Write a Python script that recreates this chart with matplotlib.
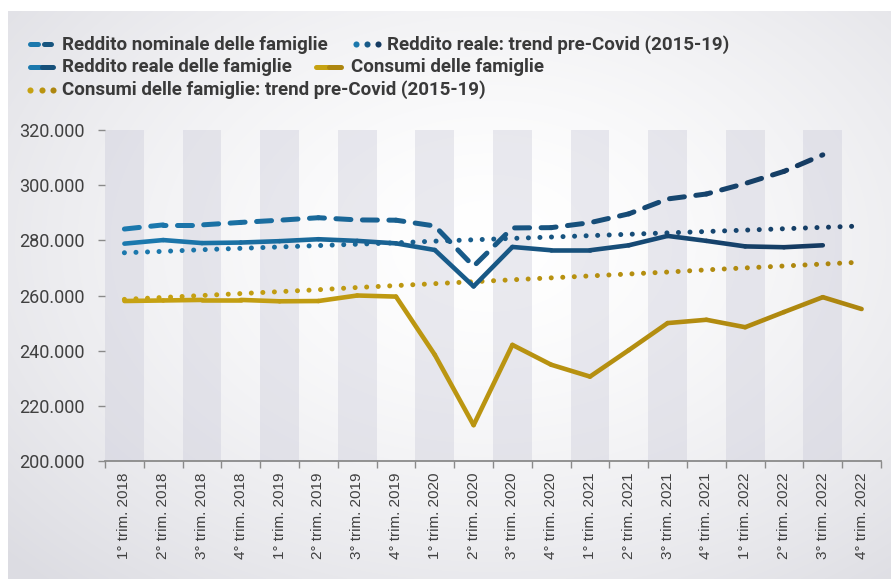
"""Reddito e consumi delle famiglie, 2018-2022, con trend pre-Covid"""

import numpy as np
import matplotlib
matplotlib.use("Agg")
import matplotlib.pyplot as plt

# dati (migliaia di euro)
trimestri = ["1° trim. 2018", "2° trim. 2018", "3° trim. 2018", "4° trim. 2018",
             "1° trim. 2019", "2° trim. 2019", "3° trim. 2019", "4° trim. 2019",
             "1° trim. 2020", "2° trim. 2020", "3° trim. 2020", "4° trim. 2020",
             "1° trim. 2021", "2° trim. 2021", "3° trim. 2021", "4° trim. 2021",
             "1° trim. 2022", "2° trim. 2022", "3° trim. 2022", "4° trim. 2022"]

reddito_nominale = [284.1, 285.6, 285.6, 286.5, 287.3, 288.2, 287.4, 287.3,
                    285.2, 270.6, 284.5, 284.6, 286.4, 289.6, 295.0, 296.8,
                    300.6, 305.0, 311.0, np.nan]
reddito_reale = [278.8, 280.1, 279.0, 279.2, 279.7, 280.4, 279.8, 278.9,
                 276.5, 263.3, 277.6, 276.4, 276.4, 278.2, 281.6, 279.8,
                 277.8, 277.5, 278.2, np.nan]
reddito_trend = [275.5, 276.0, 276.6, 277.1, 277.6, 278.1, 278.6, 279.1,
                 279.7, 280.2, 280.7, 281.2, 281.7, 282.2, 282.7, 283.2,
                 283.7, 284.2, 284.7, 285.2]
consumi = [258.0, 258.2, 258.4, 258.4, 257.9, 258.0, 260.0, 259.6,
           238.5, 213.0, 242.1, 234.9, 230.6, 240.2, 250.0, 251.2,
           248.5, 254.0, 259.4, 255.1]
consumi_trend = [258.6, 259.3, 260.0, 260.7, 261.4, 262.1, 262.9, 263.6,
                 264.3, 265.0, 265.7, 266.4, 267.1, 267.8, 268.5, 269.3,
                 270.0, 270.7, 271.4, 272.1]
yticks = [200, 220, 240, 260, 280, 300, 320]

BLU_CHIARO = "#1b78ad"
BLU_SCURO = "#153b62"
ORO_CHIARO = "#c6a212"
ORO_SCURO = "#ad860f"

FONT_NARROW = ["Liberation Sans Narrow", "Roboto", "DejaVu Sans"]
FONT_LABEL = ["Liberation Sans", "DejaVu Sans"]

DPI = 100
fig = plt.figure(figsize=(8.91, 5.79), dpi=DPI)

# sfondo sfumato su tutta la figura
bg = fig.add_axes([0, 0, 1, 1], zorder=-10)
W, H = 891, 579
xx, yy = np.meshgrid(np.linspace(0, 1, W), np.linspace(0, 1, H))
r = np.sqrt(((xx - 0.55) / 0.75) ** 2 + ((yy - 0.42) / 0.8) ** 2)
g = np.clip(r, 0, 1) ** 1.5
img = np.zeros((H, W, 3))
for k, (c0, c1) in enumerate(zip((255, 255, 255), (220, 220, 226))):
    img[..., k] = (c0 + (c1 - c0) * g) / 255.0
img[:11, :, :] = 1.0
img[:, :8, :] = 1.0
bg.imshow(img, extent=[0, W, H, 0], aspect="auto", interpolation="bilinear")
bg.set_xlim(0, W)
bg.set_ylim(H, 0)
bg.axis("off")

ax = fig.add_axes([105 / W, (H - 461) / H, (881 - 105) / W, (461 - 130) / H])
ax.patch.set_alpha(0)
x = np.arange(len(trimestri))
ax.set_xlim(-0.5, len(trimestri) - 0.5)
ax.set_ylim(200, 320)

# bande verticali alternate
for i in range(0, len(trimestri), 2):
    ax.axvspan(i - 0.5, i + 0.5, color="#c9c9d8", alpha=0.38, lw=0, zorder=0)


def mix(c0, c1, t):
    a = np.array(matplotlib.colors.to_rgb(c0))
    b = np.array(matplotlib.colors.to_rgb(c1))
    return tuple(a + (b - a) * t)


def grad_plot(ax, yvals, c0, c1, lw, dash=None, zorder=3):
    y = np.array(yvals, dtype=float)
    ok = ~np.isnan(y)
    xs, ys = x[ok], y[ok]
    pts = ax.transData.transform(np.column_stack([xs, ys]))
    seg = np.hypot(*np.diff(pts, axis=0).T) * 72.0 / DPI
    cum = 0.0
    n = len(xs)
    for i in range(n - 1):
        col = mix(c0, c1, i / (n - 2))
        if dash is None:
            ls = "-"
        else:
            ls = (cum / lw, dash)
        ax.plot(xs[i:i + 2], ys[i:i + 2], color=col, lw=lw, ls=ls,
                solid_capstyle="round", dash_capstyle="round",
                solid_joinstyle="round", zorder=zorder)
        cum += seg[i]


grad_plot(ax, consumi_trend, ORO_CHIARO, ORO_SCURO, 3.6, dash=(0.01, 2.3), zorder=2)
grad_plot(ax, reddito_trend, BLU_CHIARO, BLU_SCURO, 3.6, dash=(0.01, 2.3), zorder=2)
grad_plot(ax, consumi, ORO_CHIARO, ORO_SCURO, 3.3, zorder=3)
grad_plot(ax, reddito_reale, BLU_CHIARO, BLU_SCURO, 3.3, zorder=3)
grad_plot(ax, reddito_nominale, BLU_CHIARO, BLU_SCURO, 3.6, dash=(3.0, 2.3), zorder=4)

# assi
for s in ["top", "right", "left"]:
    ax.spines[s].set_visible(False)
ax.spines["bottom"].set_color("#8a8a8a")
ax.spines["bottom"].set_linewidth(1.3)

ax.set_yticks(yticks)
ax.set_yticklabels(["{:d}.000".format(v) for v in yticks])
ax.tick_params(axis="y", length=5, width=1, color="#8a8a8a", pad=10,
               labelsize=13, labelcolor="#404040")
for lab in ax.get_yticklabels():
    lab.set_family(FONT_NARROW)

ax.set_xticks(np.arange(-0.5, len(trimestri), 1))
ax.set_xticklabels([])
ax.tick_params(axis="x", which="major", length=5, width=1, color="#8a8a8a")
ax.set_xticks(x, minor=True)
ax.set_xticklabels(trimestri, minor=True, rotation=90, fontsize=11,
                   color="#404040", family=FONT_LABEL)
ax.tick_params(axis="x", which="minor", length=0, pad=8)

# legenda disegnata a mano (coordinate in pixel)
txt = dict(fontsize=13.5, fontweight="bold", color="#3a3a3a", family=FONT_NARROW,
           va="baseline", ha="left")


def seg_h(x0, x1, yy, c0, c1, lw):
    bg.plot([x0, (x0 + x1) / 2], [yy, yy], color=c0, lw=lw, solid_capstyle="round")
    bg.plot([(x0 + x1) / 2, x1], [yy, yy], color=c1, lw=lw, solid_capstyle="round")


def dots(xs, yy, c0, c1):
    for i, xv in enumerate(xs):
        bg.plot([xv], [yy], "o", ms=4.4, mew=0, color=mix(c0, c1, i / (len(xs) - 1)))


# riga 1
bg.plot([30, 38], [44, 44], color=BLU_CHIARO, lw=3.6, solid_capstyle="round")
bg.plot([44, 51], [44, 44], color="#17557f", lw=3.6, solid_capstyle="round")
bg.text(62, 50, "Reddito nominale delle famiglie", **txt)
dots([356, 367, 378], 44, BLU_CHIARO, BLU_SCURO)
bg.text(387, 50, "Reddito reale: trend pre-Covid (2015-19)", **txt)
# riga 2
seg_h(30, 53, 67, BLU_CHIARO, "#16507a", 3.6)
bg.text(62, 72, "Reddito reale delle famiglie", **txt)
seg_h(316, 341, 67, ORO_CHIARO, ORO_SCURO, 3.6)
bg.text(351, 72, "Consumi delle famiglie", **txt)
# riga 3
dots([30, 42, 53], 90, ORO_CHIARO, ORO_SCURO)
bg.text(62, 95, "Consumi delle famiglie: trend pre-Covid (2015-19)", **txt)

fig.savefig("out.png", dpi=DPI)
